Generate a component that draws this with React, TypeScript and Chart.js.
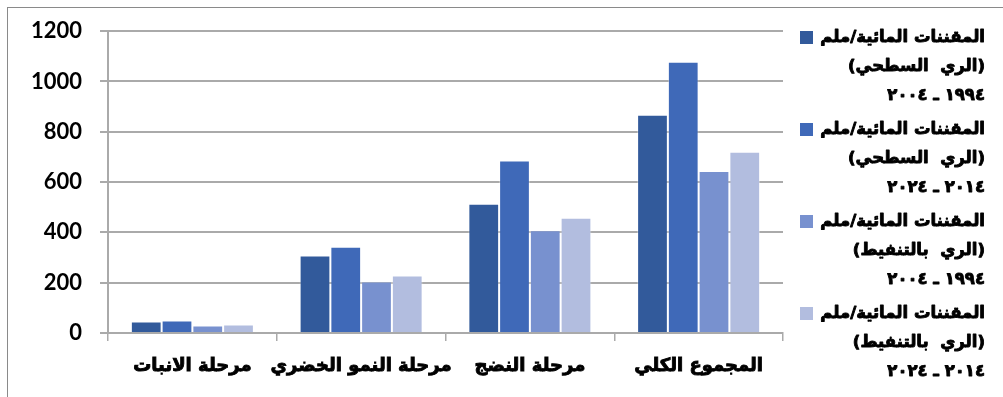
import React, { useEffect, useRef } from 'react';
import { Chart, registerables } from 'chart.js';

Chart.register(...registerables);

// Growth stages, left to right as drawn
const categories = ['مرحلة الانبات', 'مرحلة النمو الخضري', 'مرحلة النضج', 'المجموع الكلي'];

// Water requirements (mm) per irrigation method and period
const surface1994 = [46, 308, 514, 868];
const surface2014 = [50, 343, 686, 1079];
const drip1994 = [30, 205, 409, 644];
const drip2014 = [34, 229, 458, 721];

const seriesColors = ['#325A9B', '#3F69B8', '#7891CF', '#B2BDDF'];

// Legend entries, one line per row
const legendLines = [
  ['المقننات المائية/ملم', '(الري  السطحي)', '١٩٩٤ ـ ٢٠٠٤'],
  ['المقننات المائية/ملم', '(الري  السطحي)', '٢٠١٤ ـ ٢٠٢٤'],
  ['المقننات المائية/ملم', '(الري  بالتنفيط)', '١٩٩٤ ـ ٢٠٠٤'],
  ['المقننات المائية/ملم', '(الري  بالتنفيط)', '٢٠١٤ ـ ٢٠٢٤'],
];

const yMax = 1200;
const yStep = 200;

const gridColor = '#aaaaaa';
const arabicFont = '"DejaVu Sans", "Liberation Sans", sans-serif';

const sideLegend = {
  id: 'sideLegend',
  afterDraw(chart: any) {
    const { ctx } = chart;
    ctx.save();
    chart.data.datasets.forEach((ds: any, i: number) => {
      const top = 31 + i * 92;
      ctx.fillStyle = ds.backgroundColor;
      ctx.fillRect(800, top, 13, 13);
      ctx.fillStyle = '#000';
      ctx.strokeStyle = '#000';
      ctx.lineWidth = 0.9;
      ctx.lineJoin = 'round';
      ctx.font = `bold 16.5px ${arabicFont}`;
      ctx.textAlign = 'right';
      ctx.textBaseline = 'middle';
      ctx.direction = 'rtl';
      legendLines[i].forEach((line, j) => {
        const y = top + 7 + j * 29;
        ctx.strokeText(line, 985, y);
        ctx.fillText(line, 985, y);
      });
    });
    ctx.restore();
  },
};

export default function App() {
  const ref = useRef<HTMLCanvasElement>(null);

  useEffect(() => {
    if (!ref.current) return;
    const seriesValues = [surface1994, surface2014, drip1994, drip2014];
    const chart = new Chart(ref.current, {
      type: 'bar',
      data: {
        labels: categories,
        datasets: seriesValues.map((values, i) => ({
          label: legendLines[i].join(' '),
          data: values,
          backgroundColor: seriesColors[i],
          borderColor: 'rgba(255,255,255,0.35)',
          borderWidth: 1,
          barPercentage: 1,
          categoryPercentage: 0.729,
        })),
      },
      options: {
        responsive: false,
        animation: false,
        devicePixelRatio: 1,
        layout: { padding: { top: 29, right: 220, bottom: 0, left: 0 } },
        plugins: {
          legend: { display: false },
          tooltip: { enabled: false },
        },
        scales: {
          x: {
            grid: {
              display: true,
              drawOnChartArea: false,
              drawTicks: true,
              tickLength: 8,
              color: gridColor,
              lineWidth: 1.5,
            },
            border: { display: true, color: gridColor, width: 2 },
            ticks: {
              color: '#000',
              font: { family: arabicFont, weight: 'bold', size: 18 },
              textStrokeColor: '#000',
              textStrokeWidth: 0.9,
              padding: 15,
              maxRotation: 0,
              autoSkip: false,
            },
            afterFit(scale: any) {
              scale.height = 64;
            },
          },
          y: {
            min: 0,
            max: yMax,
            ticks: {
              stepSize: yStep,
              color: '#000',
              font: { family: 'Lato, "Open Sans", sans-serif', weight: 'bold', size: 22 },
              padding: 18,
              callback: (value: any) => String(value),
            },
            grid: { color: gridColor, lineWidth: 2, tickLength: 8 },
            border: { display: true, color: gridColor, width: 2 },
            afterFit(scale: any) {
              scale.width = 108;
            },
          },
        },
      },
      plugins: [sideLegend],
    });
    return () => chart.destroy();
  }, []);

  return (
    <div style={{ position: 'fixed', left: 0, top: 0, width: 1003, height: 397, background: '#fff', overflow: 'hidden' }}>
      <div
        style={{
          position: 'absolute',
          left: 7,
          top: 7,
          width: 1100,
          height: 500,
          border: '1px solid #8a8a8a',
          pointerEvents: 'none',
        }}
      />
      <canvas ref={ref} width={1003} height={397} style={{ position: 'absolute', left: 0, top: 0 }} />
    </div>
  );
}
